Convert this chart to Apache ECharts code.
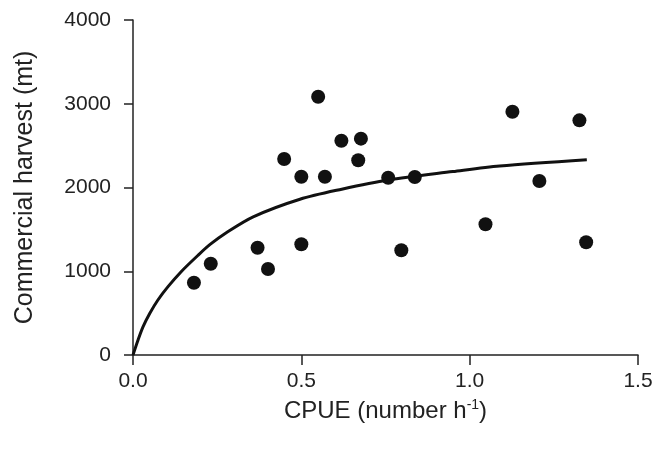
<!DOCTYPE html>
<html>
<head>
<meta charset="utf-8">
<script src="https://cdn.jsdelivr.net/npm/echarts@6/dist/echarts.min.js"></script>
<style>html,body{margin:0;padding:0;background:#fff}#c{width:664px;height:450px}</style>
</head>
<body>
<div id="c"></div>
<script>
var xTicks = [0, 0.5, 1.0, 1.5];
var yTicks = [0, 1000, 2000, 3000, 4000];
var cpue = [0.181, 0.231, 0.370, 0.401, 0.449, 0.500, 0.500, 0.550, 0.570, 0.619, 0.669, 0.677, 0.758, 0.797, 0.837, 1.047, 1.127, 1.207, 1.326, 1.346];
var harvest = [863, 1090, 1281, 1027, 2340, 2129, 1322, 3084, 2129, 2559, 2325, 2583, 2117, 1250, 2125, 1561, 2905, 2078, 2802, 1346];
var curveX = [0, 0.015, 0.030, 0.050, 0.074, 0.104, 0.143, 0.193, 0.229, 0.277, 0.357, 0.496, 0.620, 0.758, 0.950, 1.089, 1.348];
var curveY = [0, 179, 338, 498, 657, 816, 995, 1190, 1320, 1460, 1650, 1860, 1980, 2090, 2190, 2257, 2332];

var pts = cpue.map(function (v, i) { return [v, harvest[i]]; });
var curve = curveX.map(function (v, i) { return [v, curveY[i]]; });
var font = 'Liberation Sans, Arial, Helvetica, sans-serif';
var chart = echarts.init(document.getElementById('c'), null, {renderer: 'canvas'});
chart.setOption({
  animation: false,
  backgroundColor: '#fff',
  grid: {left: 133, right: 26, top: 20, bottom: 95, containLabel: false},
  xAxis: {
    type: 'value', min: xTicks[0], max: xTicks[xTicks.length - 1], interval: 0.5,
    name: 'CPUE (number h{sup|-1})', nameLocation: 'middle', nameGap: 43,
    nameTextStyle: {fontFamily: font, fontSize: 24, color: '#222',
      rich: {sup: {fontFamily: font, fontSize: 14, color: '#222', verticalAlign: 'top', padding: [0, 0, 12, 0]}}},
    axisLine: {show: true, onZero: false, lineStyle: {color: '#222', width: 1.5}},
    axisTick: {show: true, inside: false, length: 10, lineStyle: {color: '#222', width: 1.5}},
    axisLabel: {fontFamily: font, fontSize: 21, color: '#222', margin: 16,
      formatter: function (v) { return v.toFixed(1); }},
    splitLine: {show: false}
  },
  yAxis: {
    type: 'value', min: yTicks[0], max: yTicks[yTicks.length - 1], interval: 1000,
    name: 'Commercial harvest (mt)', nameLocation: 'middle', nameGap: 95,
    nameTextStyle: {fontFamily: font, fontSize: 25, color: '#222'},
    axisLine: {show: true, lineStyle: {color: '#222', width: 1.5}},
    axisTick: {show: true, inside: false, length: 9, lineStyle: {color: '#222', width: 1.5}},
    axisLabel: {fontFamily: font, fontSize: 21, color: '#222', margin: 22,
      formatter: function (v) { return String(v); }},
    splitLine: {show: false}
  },
  series: [
    {type: 'line', data: curve, smooth: 0.3, showSymbol: false, symbol: 'none',
      lineStyle: {color: '#111', width: 3}, z: 2},
    {type: 'scatter', data: pts, symbol: 'circle', symbolSize: 14,
      itemStyle: {color: '#111', opacity: 1}, z: 3}
  ]
});
</script>
</body>
</html>
